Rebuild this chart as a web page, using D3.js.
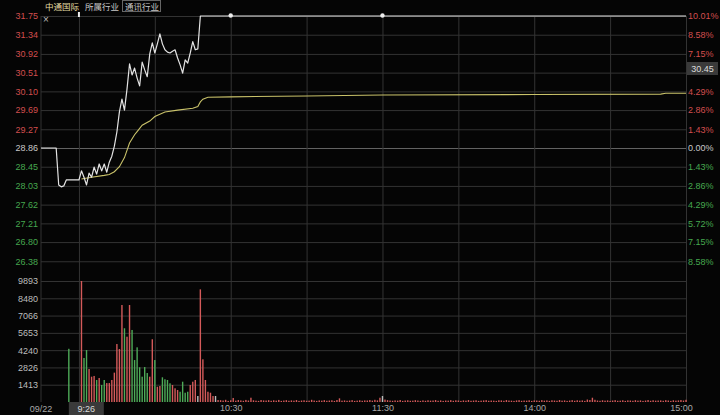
<!DOCTYPE html>
<html><head><meta charset="utf-8">
<script src="https://cdn.jsdelivr.net/npm/d3@7"></script>
<style>
html,body{margin:0;padding:0;background:#000;}
svg{display:block;}
</style></head><body>
<svg id="c" width="720" height="415"></svg>
<script>
// ---------------- DATA ----------------
const prevClose = 28.86;
const priceTicks = [31.75,31.34,30.92,30.51,30.10,29.69,29.27,28.86,28.45,28.03,27.62,27.21,26.80,26.38];
const pctTicks = ["10.01%","8.58%","7.15%","5.72%","4.29%","2.86%","1.43%","0.00%","1.43%","2.86%","4.29%","5.72%","7.15%","8.58%"];
const volTicks = [9893,8480,7066,5653,4240,2826,1413];
const timeTicks = ["10:30","11:30","14:00","15:00"];
const gridTimes = ["9:30","10:00","10:30","11:00","11:30","13:30","14:00","14:30","15:00"];
const dateLabel = "09/22";
const cursorTime = "9:26";
const cursorPrice = "30.45";
const cursorHidesTick = 3; // the right-axis tick label covered by the cursor price box
const markerTimes = ["9:30","10:30","11:30"];

const priceTimes = ["9:15","9:21","9:22","9:23","9:24","9:25","9:30",
 "9:31","9:32","9:33","9:34","9:35","9:36","9:37","9:38","9:39","9:40",
 "9:41","9:42","9:43","9:44","9:45","9:46","9:47","9:48","9:49","9:50",
 "9:51","9:52","9:53","9:54","9:55","9:56","9:57","9:58","9:59","10:00",
 "10:01","10:02","10:03","10:04","10:05","10:06","10:07","10:08","10:09","10:10",
 "10:11","10:12","10:13","10:14","10:15","10:16","10:17","10:18","15:00"];
const priceValues = [28.86,28.86,28.05,28.01,28.03,28.16,28.16,
 28.36,28.22,28.05,28.31,28.22,28.44,28.29,28.51,28.36,28.51,
 28.33,28.55,28.68,28.90,29.21,29.65,29.93,29.69,30.15,30.70,
 30.46,30.61,30.39,30.22,30.74,30.57,30.42,30.92,31.16,30.94,
 31.14,31.36,31.14,31.01,30.96,30.94,30.98,31.01,30.83,30.68,
 30.50,30.79,30.72,30.94,31.19,31.01,31.03,31.75,31.75];

const avgTimes = ["9:31","9:35","9:40","9:42","9:44","9:46","9:48","9:50","9:52","9:53","9:55",
 "9:58","10:00","10:04","10:09","10:15","10:17","10:18","10:19","10:21","10:30",
 "11:00","11:30","14:00","14:50","14:52","15:00"];
const avgValues = [28.18,28.22,28.26,28.28,28.34,28.45,28.65,28.97,29.15,29.22,29.36,
 29.45,29.55,29.65,29.69,29.73,29.77,29.87,29.93,29.97,29.98,
 30.00,30.02,30.03,30.04,30.06,30.06];

const auctionTime = "9:26";
const auctionVol = 4350;
const auctionDir = "d";
const volStart = "9:31"; // one bar per trading minute from 9:31 to 15:00
const volValues = [
 9893,3600,4250,2700,2070,2130,1800,1960,1390,1800,1550,1550,1800,2400,4740,4330,
 7930,6030,5340,7930,5890,3430,4470,2840,2070,2860,2370,2070,5130,3430,1250,1310,
 2020,1860,1800,1530,1390,1120,980,840,1660,760,840,1390,1660,1800,490,9210,
 3490,1800,840,760,490,490,160,
 150,120,180,90,140,330,110,160,130,100,
 170,120,350,140,110,90,160,130,120,150,
 100,140,110,170,90,120,150,100,130,110,
 160,90,120,140,100,110,180,120,90,130,
 110,150,100,120,140,90,160,300,110,130,
 100,120,150,90,110,140,100,130,120,160,
 110,180,130,350,490,
 200,150,120,100,130,110,160,90,120,140,
 100,110,150,120,90,130,100,140,110,120,
 160,100,130,90,120,110,150,100,140,120,
 90,130,110,160,100,120,140,90,110,130,
 150,100,120,110,90,140,130,100,160,120,
 110,90,130,150,100,120,110,140,90,130,
 120,100,150,110,130,90,140,120,100,160,
 110,130,90,120,150,100,140,110,130,90,
 200,160,350,180,120,100,140,110,130,90,
 120,150,100,110,140,90,130,120,100,150,
 110,130,90,120,160,100,140,110,120,130,
 100,150,120,90,140,110,130,160,120,180];
const volDirs = ("uddu"+"uudu"+"dduu"+"uuuu"+"uduu"+"dddd"+"dddu"+"uduu"+"dddd"+"uuud"+"dddu"+"uufu"+
 "uuuuufuuuuuuuuuu"+"uuuuuuuuuuuuuuuu"+"uuuuuuuuuuuuuuuu"+"uuuuuuuuuuuuuuuu"+
 "uuuuuuufuuuuuuuu"+"uuuuuuuuuuuuuuuu"+"uuuuuuuuuuuuuuuu"+"uuuuuuuuuuuuuuuu"+
 "uuuuuuuuuuuuuuuu"+"uuuuuuuuuuuuuuuu"+"uuuuuuuuuuuuuuuu"+"uuuuuuuuuuuuuuuu").split("");

const legendItems = ["中通国际","所属行业","通讯行业"];

// ---------------- HELPERS ----------------
function slot(t){ const [h,m]=t.split(":").map(Number); const mm=h*60+m; return mm<=690 ? mm-555 : mm-780+135; }
const RED="#d24e4e", GREEN="#45a84f", GREY="#c8c8c8";
const GRID="#333333";
const barColor = {u:"#d45a5a", d:"#4eaa58", f:"#bdbdbd"};
const FONT = '"Liberation Sans", Arial, sans-serif';
const CJK = '"Noto Sans CJK SC", sans-serif';

const svg = d3.select("#c");
svg.append("rect").attr("width",720).attr("height",415).attr("fill","#050505");

const x = d3.scaleLinear().domain([0,255]).range([41,686]);
const y = d3.scaleLinear().domain([25.97,31.75]).range([280,16]);
const yv = d3.scaleLinear().domain([0,9893]).range([402,281]);

// ---------------- GRID ----------------
svg.append("g").attr("transform","translate(41,0)")
  .call(d3.axisRight(y).tickValues(priceTicks).tickSize(645).tickFormat(""))
  .call(g=>g.select(".domain").remove())
  .call(g=>g.selectAll("line").attr("stroke",d=>d===prevClose?"#626262":GRID));
svg.append("g").attr("transform","translate(41,0)")
  .call(d3.axisRight(yv).tickValues(volTicks).tickSize(645).tickFormat(""))
  .call(g=>g.select(".domain").remove())
  .call(g=>g.selectAll("line").attr("stroke",GRID));
svg.append("g").attr("transform","translate(0,402)")
  .call(d3.axisBottom(x).tickValues(gridTimes.map(slot)).tickSize(-386).tickFormat(""))
  .call(g=>g.select(".domain").remove())
  .call(g=>g.selectAll("line").attr("stroke",GRID));
svg.append("line").attr("x1",x(0)).attr("x2",x(0)).attr("y1",16).attr("y2",402).attr("stroke",GRID);

// ---------------- AXIS LABELS ----------------
function styleText(g, colorFn){
  g.select(".domain").remove();
  g.attr("font-family",FONT).attr("font-size",9);
  g.selectAll("text").attr("fill",colorFn);
}
svg.append("g").attr("transform","translate(41,0)")
  .call(d3.axisLeft(y).tickValues(priceTicks).tickSize(0).tickPadding(3).tickFormat(d3.format(".2f")))
  .call(g=>styleText(g,(d)=>d>prevClose?RED:(d<prevClose?GREEN:GREY)));
svg.append("g").attr("transform","translate(686,0)")
  .call(d3.axisRight(y).tickValues(priceTicks).tickSize(0).tickPadding(2)
    .tickFormat((d,i)=>i===cursorHidesTick?"":pctTicks[i]))
  .call(g=>styleText(g,(d)=>d>prevClose?RED:(d<prevClose?GREEN:GREY)));
svg.append("g").attr("transform","translate(41,0)")
  .call(d3.axisLeft(yv).tickValues(volTicks).tickSize(0).tickPadding(3).tickFormat(d3.format("d")))
  .call(g=>styleText(g,"#bcbcbc"));
const tickByslot = {}; timeTicks.forEach(t=>tickByslot[slot(t)]=t);
svg.append("g").attr("transform","translate(0,402)")
  .call(d3.axisBottom(x).tickValues(timeTicks.map(slot)).tickSize(0).tickPadding(3).tickFormat(d=>tickByslot[d]))
  .call(g=>styleText(g,"#a8a8a8"))
  .call(g=>g.selectAll("text").attr("dx",d=>d===255?-5:0));
svg.append("text").attr("x",x(0)).attr("y",412).attr("text-anchor","middle")
  .attr("font-family",FONT).attr("font-size",9).attr("fill","#a8a8a8").text(dateLabel);
// cursor time box
const cx0 = x(slot(cursorTime));
svg.append("rect").attr("x",cx0).attr("y",402).attr("width",35).attr("height",13).attr("fill","#3a3a3a");
svg.append("text").attr("x",cx0+17.5).attr("y",412).attr("text-anchor","middle")
  .attr("font-family",FONT).attr("font-size",9).attr("fill","#dcdcdc").text(cursorTime);
// cursor price box on right
svg.append("rect").attr("x",687).attr("y",62).attr("width",31).attr("height",13).attr("fill","#3a3a3a");
svg.append("text").attr("x",702.5).attr("y",72).attr("text-anchor","middle")
  .attr("font-family",FONT).attr("font-size",9).attr("fill","#dcdcdc").text(cursorPrice);

// ---------------- VOLUME BARS ----------------
const bars = volValues.map((v,i)=>({s:slot(volStart)+i, v, dir:volDirs[i]}));
bars.push({s:slot(auctionTime), v:auctionVol, dir:auctionDir});
svg.append("g").selectAll("rect").data(bars).join("rect")
  .attr("x",d=>x(d.s)-0.7).attr("width",1.4)
  .attr("y",d=>yv(d.v)).attr("height",d=>yv(0)-yv(d.v))
  .attr("fill",d=>barColor[d.dir]);

// ---------------- LINES ----------------
const avgData = avgTimes.map((t,i)=>({s:slot(t),p:avgValues[i]}));
const priceData = priceTimes.map((t,i)=>({s:slot(t),p:priceValues[i]}));
const line = d3.line().x(d=>x(d.s)).y(d=>y(d.p));
svg.append("path").datum(avgData).attr("d",line).attr("fill","none")
  .attr("stroke","#c9c26a").attr("stroke-width",1.1);
svg.append("path").datum(priceData).attr("d",line).attr("fill","none")
  .attr("stroke","#e4e4e4").attr("stroke-width",1.2).attr("stroke-linejoin","round");

// markers on top edge
markerTimes.forEach((t,i)=>{
  if(i===0){
    svg.append("rect").attr("x",x(slot(t))-1).attr("y",12).attr("width",2).attr("height",5).attr("fill","#eee");
  } else {
    svg.append("circle").attr("cx",x(slot(t))).attr("cy",15.5).attr("r",2.2).attr("fill","#eee");
  }
});

// ---------------- LEGEND ----------------
const lg = svg.append("g").attr("font-family",CJK).attr("font-size",8.5);
lg.append("text").attr("x",45).attr("y",9.5).attr("fill","#e6dca2").text(legendItems[0]);
lg.append("text").attr("x",85).attr("y",9.5).attr("fill","#c8c8c8").text(legendItems[1]);
lg.append("rect").attr("x",122.5).attr("y",0.5).attr("width",38).attr("height",11).attr("fill","none").attr("stroke","#666");
lg.append("text").attr("x",125).attr("y",9.5).attr("fill","#c8c8c8").text(legendItems[2]);
svg.append("text").attr("x",46).attr("y",23).attr("text-anchor","middle")
  .attr("font-family",FONT).attr("font-size",10).attr("fill","#bbb").text("×");
</script>
</body></html>
